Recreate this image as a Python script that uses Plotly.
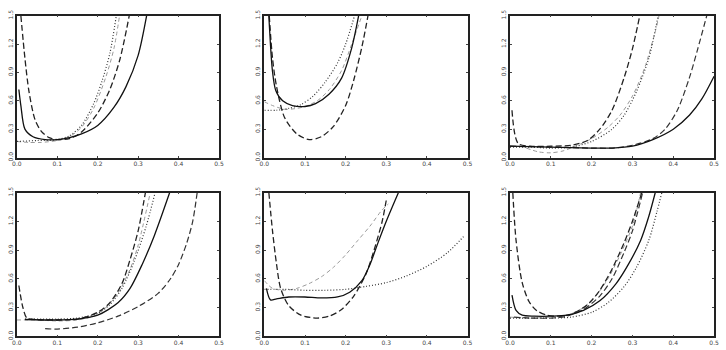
import plotly.graph_objects as go

# ---------------- data ----------------
x_ticks = [0.0, 0.1, 0.2, 0.3, 0.4, 0.5]
x_tick_labels = ["0.0", "0.1", "0.2", "0.3", "0.4", "0.5"]
y_ticks = [0.0, 0.3, 0.6, 0.9, 1.2, 1.5]
y_tick_labels = ["0.0", "0.3", "0.6", "0.9", "1.2", "1.5"]

# Panel 1 (top-left)
p1_solid_x = [0.005, 0.01, 0.02, 0.04, 0.07, 0.1, 0.13, 0.16, 0.2, 0.24, 0.27, 0.3, 0.321]
p1_solid_y = [0.72, 0.55, 0.3, 0.22, 0.19, 0.19, 0.21, 0.25, 0.34, 0.53, 0.75, 1.08, 1.5]
p1_dash_x = [0.01, 0.02, 0.03, 0.045, 0.06, 0.08, 0.1, 0.13, 0.16, 0.2, 0.23, 0.255, 0.278]
p1_dash_y = [1.5, 1.05, 0.7, 0.4, 0.28, 0.21, 0.19, 0.2, 0.27, 0.47, 0.72, 1.04, 1.5]
p1_dot_x = [0.0, 0.05, 0.1, 0.13, 0.16, 0.19, 0.21, 0.23, 0.246]
p1_dot_y = [0.17, 0.18, 0.19, 0.23, 0.34, 0.57, 0.8, 1.1, 1.5]
p1_light_x = [0.0, 0.03, 0.06, 0.1, 0.13, 0.16, 0.19, 0.22, 0.24, 0.254]
p1_light_y = [0.17, 0.16, 0.16, 0.18, 0.22, 0.32, 0.52, 0.85, 1.15, 1.5]

# Panel 2 (top-middle)
p2_solid_x = [0.011, 0.02, 0.028, 0.045, 0.069, 0.1, 0.126, 0.159, 0.19, 0.215, 0.232]
p2_solid_y = [1.5, 0.91, 0.71, 0.6, 0.55, 0.54, 0.57, 0.67, 0.84, 1.16, 1.5]
p2_dash_x = [0.012, 0.02, 0.03, 0.05, 0.08, 0.11, 0.14, 0.17, 0.2, 0.22, 0.24, 0.255]
p2_dash_y = [1.5, 1.05, 0.75, 0.42, 0.25, 0.19, 0.22, 0.33, 0.55, 0.82, 1.17, 1.5]
p2_dot_x = [0.0, 0.03, 0.06, 0.09, 0.12, 0.15, 0.18, 0.2, 0.222]
p2_dot_y = [0.5, 0.5, 0.52, 0.56, 0.65, 0.8, 1.0, 1.2, 1.5]
p2_light_x = [0.0, 0.02, 0.05, 0.08, 0.1, 0.13, 0.16, 0.19, 0.215, 0.24]
p2_light_y = [0.59, 0.55, 0.51, 0.52, 0.54, 0.6, 0.72, 0.92, 1.2, 1.5]

# Panel 3 (top-right)
p3_solid_x = [0.0, 0.1, 0.2, 0.25, 0.3, 0.35, 0.4, 0.44, 0.47, 0.5]
p3_solid_y = [0.12, 0.11, 0.1, 0.1, 0.12, 0.19, 0.3, 0.45, 0.62, 0.86]
p3_dash_x = [0.005, 0.02, 0.05, 0.1, 0.15, 0.19, 0.22, 0.25, 0.28, 0.3, 0.318]
p3_dash_y = [0.5, 0.15, 0.12, 0.12, 0.13, 0.18, 0.3, 0.5, 0.85, 1.15, 1.5]
p3_dot_x = [0.0, 0.05, 0.1, 0.15, 0.2, 0.25, 0.28, 0.31, 0.34, 0.363]
p3_dot_y = [0.11, 0.11, 0.1, 0.11, 0.17, 0.3, 0.45, 0.7, 1.05, 1.5]
p3_light_x = [0.04, 0.07, 0.1, 0.13, 0.16, 0.2, 0.24, 0.27, 0.3, 0.33, 0.36, 0.365]
p3_light_y = [0.1, 0.06, 0.05, 0.07, 0.12, 0.2, 0.32, 0.45, 0.65, 0.95, 1.4, 1.5]
p3_dash2_x = [0.0, 0.1, 0.2, 0.25, 0.3, 0.35, 0.38, 0.41, 0.44, 0.46, 0.482]
p3_dash2_y = [0.12, 0.11, 0.1, 0.1, 0.13, 0.2, 0.3, 0.5, 0.85, 1.15, 1.5]

# Panel 4 (bottom-left)
p4_solid_x = [0.02, 0.1, 0.15, 0.2, 0.25, 0.28, 0.31, 0.34, 0.378]
p4_solid_y = [0.175, 0.17, 0.18, 0.22, 0.35, 0.5, 0.75, 1.05, 1.5]
p4_dash_x = [0.005, 0.015, 0.025, 0.05, 0.1, 0.15, 0.2, 0.23, 0.26, 0.28, 0.3, 0.318]
p4_dash_y = [0.53, 0.3, 0.19, 0.175, 0.17, 0.18, 0.25, 0.35, 0.55, 0.8, 1.1, 1.5]
p4_dot_x = [0.02, 0.1, 0.15, 0.2, 0.23, 0.26, 0.29, 0.32, 0.342]
p4_dot_y = [0.18, 0.18, 0.19, 0.24, 0.33, 0.5, 0.78, 1.15, 1.5]
p4_light_x = [0.0, 0.05, 0.1, 0.15, 0.19, 0.22, 0.25, 0.28, 0.3, 0.33]
p4_light_y = [0.17, 0.17, 0.16, 0.17, 0.21, 0.3, 0.45, 0.7, 0.95, 1.5]
p4_dash2_x = [0.07, 0.1, 0.15, 0.2, 0.25, 0.3, 0.35, 0.38, 0.4, 0.42, 0.435, 0.446]
p4_dash2_y = [0.08, 0.075, 0.095, 0.14, 0.21, 0.31, 0.45, 0.6, 0.75, 0.97, 1.2, 1.5]

# Panel 5 (bottom-middle)
p5_solid_x = [0.005, 0.015, 0.03, 0.06, 0.1, 0.14, 0.18, 0.21, 0.24, 0.26, 0.28, 0.3, 0.33]
p5_solid_y = [0.5, 0.38, 0.39, 0.41, 0.41, 0.4, 0.41, 0.46, 0.58, 0.75, 0.98, 1.2, 1.5]
p5_dash_x = [0.011, 0.02, 0.03, 0.04, 0.06, 0.09, 0.13, 0.16, 0.19, 0.22, 0.25, 0.27, 0.29, 0.3]
p5_dash_y = [1.5, 1.1, 0.75, 0.5, 0.32, 0.22, 0.19, 0.21, 0.28, 0.42, 0.65, 0.9, 1.2, 1.42]
p5_dot_x = [0.0, 0.05, 0.1, 0.15, 0.2, 0.25, 0.3, 0.35, 0.4, 0.45, 0.49]
p5_dot_y = [0.49, 0.49, 0.48, 0.48, 0.49, 0.52, 0.56, 0.63, 0.73, 0.87, 1.04]
p5_light_x = [0.0, 0.02, 0.05, 0.08, 0.11, 0.14, 0.17, 0.2, 0.23, 0.26, 0.29, 0.305]
p5_light_y = [0.58, 0.5, 0.48, 0.5, 0.55, 0.62, 0.72, 0.85, 1.0, 1.15, 1.32, 1.38]

# Panel 6 (bottom-right)
p6_solid_x = [0.005, 0.015, 0.03, 0.06, 0.1, 0.14, 0.18, 0.22, 0.26, 0.29, 0.32, 0.34, 0.356]
p6_solid_y = [0.43, 0.27, 0.22, 0.21, 0.21, 0.22, 0.27, 0.37, 0.55, 0.75, 1.0, 1.25, 1.5]
p6_dash_x = [0.007, 0.015, 0.03, 0.047, 0.065, 0.09, 0.12, 0.15, 0.19, 0.22, 0.25, 0.28, 0.3, 0.323]
p6_dash_y = [1.5, 1.0, 0.56, 0.36, 0.27, 0.22, 0.21, 0.23, 0.33, 0.48, 0.7, 0.98, 1.2, 1.5]
p6_dot_x = [0.0, 0.05, 0.1, 0.15, 0.2, 0.24, 0.28, 0.31, 0.34, 0.36, 0.372]
p6_dot_y = [0.19, 0.19, 0.19, 0.2, 0.25, 0.35, 0.52, 0.72, 1.0, 1.3, 1.5]
p6_light_x = [0.0, 0.05, 0.1, 0.14, 0.18, 0.21, 0.24, 0.27, 0.3, 0.32]
p6_light_y = [0.2, 0.19, 0.2, 0.22, 0.3, 0.42, 0.6, 0.85, 1.15, 1.5]
p6_dash2_x = [0.01, 0.05, 0.1, 0.14, 0.18, 0.22, 0.25, 0.28, 0.3, 0.325]
p6_dash2_y = [0.2, 0.19, 0.19, 0.21, 0.28, 0.42, 0.6, 0.88, 1.1, 1.5]

# ---------------- styles ----------------
STYLE = {
    "solid": dict(color="#111111", width=1.3, dash="solid"),
    "dash": dict(color="#222222", width=1.3, dash="6px,3px"),
    "dash2": dict(color="#333333", width=1.2, dash="6px,3px"),
    "dot": dict(color="#333333", width=1.2, dash="1px,2px"),
    "light": dict(color="#9a9a9a", width=1.0, dash="4px,3px"),
}

panels = [
    [("light", p1_light_x, p1_light_y), ("dot", p1_dot_x, p1_dot_y),
     ("dash", p1_dash_x, p1_dash_y), ("solid", p1_solid_x, p1_solid_y)],
    [("light", p2_light_x, p2_light_y), ("dot", p2_dot_x, p2_dot_y),
     ("dash", p2_dash_x, p2_dash_y), ("solid", p2_solid_x, p2_solid_y)],
    [("light", p3_light_x, p3_light_y), ("dot", p3_dot_x, p3_dot_y),
     ("dash", p3_dash_x, p3_dash_y), ("dash2", p3_dash2_x, p3_dash2_y),
     ("solid", p3_solid_x, p3_solid_y)],
    [("light", p4_light_x, p4_light_y), ("dot", p4_dot_x, p4_dot_y),
     ("dash", p4_dash_x, p4_dash_y), ("dash2", p4_dash2_x, p4_dash2_y),
     ("solid", p4_solid_x, p4_solid_y)],
    [("light", p5_light_x, p5_light_y), ("dot", p5_dot_x, p5_dot_y),
     ("dash", p5_dash_x, p5_dash_y), ("solid", p5_solid_x, p5_solid_y)],
    [("light", p6_light_x, p6_light_y), ("dot", p6_dot_x, p6_dot_y),
     ("dash", p6_dash_x, p6_dash_y), ("dash2", p6_dash2_x, p6_dash2_y),
     ("solid", p6_solid_x, p6_solid_y)],
]

W, H = 726, 350
x_px = [(12, 217), (263, 469), (512, 719)]
y_px = [(10, 156), (192, 340)]

fig = go.Figure()
layout = dict(
    width=W, height=H, margin=dict(l=0, r=0, t=0, b=0),
    paper_bgcolor="white", plot_bgcolor="white", showlegend=False,
    font=dict(family="DejaVu Sans", size=6, color="#444444"),
)

for i, series in enumerate(panels):
    r, c = divmod(i, 3)
    xa = "xaxis" if i == 0 else f"xaxis{i+1}"
    ya = "yaxis" if i == 0 else f"yaxis{i+1}"
    xref = "x" if i == 0 else f"x{i+1}"
    yref = "y" if i == 0 else f"y{i+1}"
    x0, x1 = x_px[c]
    y0, y1 = y_px[r]
    layout[xa] = dict(
        domain=[x0 / W, x1 / W], range=[0, 0.5], anchor=yref,
        tickmode="array", tickvals=x_ticks, ticktext=x_tick_labels,
        showgrid=False, zeroline=False, showline=True, linecolor="#222222",
        linewidth=1.5, mirror="ticks", ticks="inside", ticklen=2,
        tickcolor="#444444", tickfont=dict(size=6, color="#444444"),
    )
    layout[ya] = dict(
        domain=[1 - y1 / H, 1 - y0 / H], range=[0, 1.5], anchor=xref,
        tickmode="array", tickvals=y_ticks, ticktext=y_tick_labels,
        showgrid=False, zeroline=False, showline=True, linecolor="#222222",
        linewidth=1.5, mirror="ticks", ticks="inside", ticklen=2,
        tickcolor="#444444", tickangle=-90, tickfont=dict(size=6, color="#444444"),
    )
    for kind, xs, ys in series:
        st = STYLE[kind]
        fig.add_trace(go.Scatter(
            x=xs, y=ys, mode="lines", xaxis=xref, yaxis=yref,
            line=dict(color=st["color"], width=st["width"], dash=st["dash"],
                      shape="spline", smoothing=0.8),
            hoverinfo="skip",
        ))

fig.update_layout(**layout)
fig.write_html("out.html")
